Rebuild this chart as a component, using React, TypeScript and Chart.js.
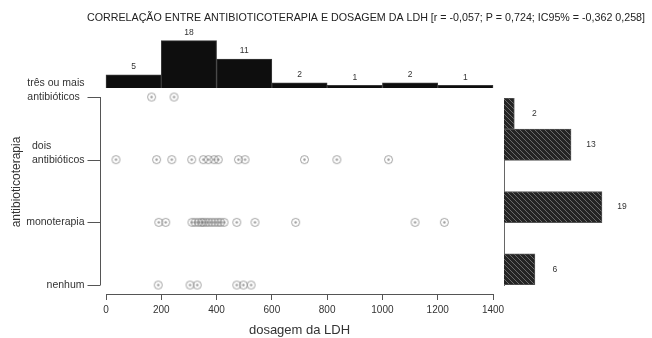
import React, { useEffect, useRef } from 'react';
import { Chart, registerables } from 'chart.js';

Chart.register(...registerables);

const FONT = "'Liberation Sans', Arial, sans-serif";
Chart.defaults.font.family = FONT;

const TITLE = 'CORRELAÇÃO ENTRE ANTIBIOTICOTERAPIA E DOSAGEM DA LDH [r = -0,057; P = 0,724; IC95% = -0,362 0,258]';
const X_TITLE = 'dosagem da LDH';
const Y_TITLE = 'antibioticoterapia';

// category index 0..3 (bottom to top)
const CATEGORY_LABELS: string[][] = [
  ['nenhum'],
  ['monoterapia'],
  ['dois', 'antibióticos'],
  ['três ou mais', 'antibióticos'],
];

const LDH_NENHUM = [189, 304, 330, 473, 497, 525];
const LDH_MONOTERAPIA = [191, 216, 311, 322, 334, 345, 352, 362, 372, 383, 394, 405, 415, 427, 473, 539, 686, 1118, 1224];
const LDH_DOIS = [36, 183, 238, 310, 352, 370, 391, 406, 479, 503, 718, 835, 1022];
const LDH_TRES = [165, 246];

const X_MIN = 0;
const X_MAX = 1400;
const X_STEP = 200;

// top histogram (LDH bins of 200)
const HIST_BIN_CENTERS = [100, 300, 500, 700, 900, 1100, 1300];
const HIST_COUNTS = [5, 18, 11, 2, 1, 2, 1];

// right histogram (antibiotic groups, top to bottom)
const GROUP_BINS = ['2,5–3', '2–2,5', '1,5–2', '1–1,5', '0,5–1', '0–0,5'];
const GROUP_COUNTS = [2, 13, 0, 19, 0, 6];

const W = 652;
const H = 338;

function makeHatch(): CanvasPattern | string {
  const s = 5;
  const p = document.createElement('canvas');
  p.width = s;
  p.height = s;
  const c = p.getContext('2d');
  if (!c) return '#2a2a2a';
  c.fillStyle = '#242424';
  c.fillRect(0, 0, s, s);
  c.strokeStyle = '#6a6a6a';
  c.lineWidth = 1;
  c.beginPath();
  c.moveTo(-1, -1);
  c.lineTo(s + 1, s + 1);
  c.moveTo(-1, s - 1);
  c.lineTo(1, s + 1);
  c.moveTo(s - 1, -1);
  c.lineTo(s + 1, 1);
  c.stroke();
  const ctx = document.createElement('canvas').getContext('2d');
  const pat = ctx ? ctx.createPattern(p, 'repeat') : null;
  return pat || '#2a2a2a';
}

function makeRing(): HTMLCanvasElement {
  const p = document.createElement('canvas');
  p.width = 11;
  p.height = 11;
  const c = p.getContext('2d');
  if (c) {
    c.strokeStyle = 'rgba(120,120,120,0.7)';
    c.lineWidth = 1;
    c.beginPath();
    c.arc(5.5, 5.5, 4, 0, Math.PI * 2);
    c.stroke();
    c.fillStyle = 'rgba(120,120,120,0.75)';
    c.beginPath();
    c.arc(5.5, 5.5, 1.2, 0, Math.PI * 2);
    c.fill();
  }
  return p;
}

const countLabels = (horizontal: boolean) => ({
  id: 'countLabels',
  afterDatasetsDraw(chart: any) {
    const ctx = chart.ctx;
    const meta = chart.getDatasetMeta(0);
    const data = chart.data.datasets[0].data;
    ctx.save();
    ctx.font = `8.5px ${FONT}`;
    ctx.fillStyle = '#333';
    ctx.textAlign = 'center';
    ctx.textBaseline = 'middle';
    meta.data.forEach((bar: any, i: number) => {
      const v = horizontal ? data[i] : data[i].y;
      if (!v) return;
      if (horizontal) ctx.fillText(String(v), bar.x + 20, bar.y);
      else ctx.fillText(String(v), bar.x, bar.y - 8);
    });
    ctx.restore();
  },
});

const rAxisY = {
  id: 'rAxisY',
  afterDraw(chart: any) {
    const { ctx, chartArea } = chart;
    const y = chart.scales.y;
    const ax = Math.round(chartArea.left - 6) + 0.5;
    const top = y.getPixelForValue(CATEGORY_LABELS.length - 1);
    const bottom = y.getPixelForValue(0);
    ctx.save();
    ctx.strokeStyle = '#555';
    ctx.lineWidth = 1;
    ctx.beginPath();
    ctx.moveTo(ax, top);
    ctx.lineTo(ax, bottom);
    CATEGORY_LABELS.forEach((_, i) => {
      const py = Math.round(y.getPixelForValue(i)) + 0.5;
      ctx.moveTo(ax - 13, py);
      ctx.lineTo(ax, py);
    });
    ctx.stroke();
    ctx.font = `10.5px ${FONT}`;
    ctx.fillStyle = '#333';
    ctx.textBaseline = 'middle';
    ctx.textAlign = 'left';
    const right = ax - 16;
    CATEGORY_LABELS.forEach((lines, i) => {
      const py = y.getPixelForValue(i);
      const bw = Math.max(...lines.map((l) => ctx.measureText(l).width));
      lines.forEach((l, j) => {
        ctx.fillText(l, right - bw, py - (lines.length - 1 - j) * 13.5);
      });
    });
    ctx.restore();
  },
};

export default function App() {
  const topRef = useRef<HTMLCanvasElement>(null);
  const mainRef = useRef<HTMLCanvasElement>(null);
  const sideRef = useRef<HTMLCanvasElement>(null);

  useEffect(() => {
    const charts: Chart[] = [];
    const hatch = makeHatch();
    const ring = makeRing();

    if (topRef.current) {
      charts.push(
        new Chart(topRef.current, {
          type: 'bar',
          data: {
            datasets: [
              {
                data: HIST_BIN_CENTERS.map((x, i) => ({ x, y: HIST_COUNTS[i] })),
                backgroundColor: '#0e0e0e',
                borderColor: '#3a3a3a',
                borderWidth: 1,
                barPercentage: 1,
                categoryPercentage: 1,
              } as any,
            ],
          },
          options: {
            responsive: false,
            animation: false,
            layout: { padding: { left: 80, right: 0, top: 0, bottom: 250 } },
            plugins: {
              legend: { display: false },
              tooltip: { enabled: false },
              title: {
                display: true,
                text: TITLE,
                color: '#222',
                font: { size: 10.7, weight: 'normal' },
                padding: { top: 12, bottom: 4 },
              },
            },
            scales: {
              x: {
                type: 'linear',
                display: false,
                offset: false,
                min: -94.06,
                max: 1975.2,
                ticks: { stepSize: X_STEP, includeBounds: false },
              },
              y: { display: false, min: 0, max: 22.5 },
            },
          } as any,
          plugins: [countLabels(false)],
        })
      );
    }

    if (mainRef.current) {
      const groups = [LDH_NENHUM, LDH_MONOTERAPIA, LDH_DOIS, LDH_TRES];
      charts.push(
        new Chart(mainRef.current, {
          type: 'scatter',
          data: {
            datasets: groups.map((vals, gi) => ({
              label: CATEGORY_LABELS[gi].join(' '),
              data: vals.map((v) => ({ x: v, y: gi })),
              pointStyle: ring,
              pointRadius: 4,
              clip: false,
            })) as any,
          },
          options: {
            responsive: false,
            animation: false,
            layout: { padding: { left: 0, right: 159, top: 70, bottom: 0 } },
            plugins: { legend: { display: false }, tooltip: { enabled: false } },
            scales: {
              x: {
                type: 'linear',
                min: X_MIN,
                max: X_MAX,
                ticks: {
                  stepSize: X_STEP,
                  color: '#333',
                  font: { size: 10 },
                  padding: 4,
                  maxRotation: 0,
                  callback: (v: any) => String(v),
                },
                grid: { drawOnChartArea: false, drawTicks: true, tickLength: 6, color: '#555' },
                border: { display: true, color: '#555' },
                title: {
                  display: true,
                  text: X_TITLE,
                  color: '#333',
                  font: { size: 13 },
                  padding: { top: 0, bottom: 0 },
                },
                afterFit: (s: any) => {
                  s.height = 44;
                },
              },
              y: {
                type: 'linear',
                min: -0.1436,
                max: 3.431,
                ticks: { display: false },
                grid: { display: false },
                border: { display: false },
                title: {
                  display: true,
                  text: Y_TITLE,
                  color: '#333',
                  font: { size: 12 },
                  padding: { top: 9, bottom: 0 },
                },
                afterFit: (s: any) => {
                  s.width = 106;
                },
              },
            },
          } as any,
          plugins: [rAxisY],
        })
      );
    }

    if (sideRef.current) {
      charts.push(
        new Chart(sideRef.current, {
          type: 'bar',
          data: {
            labels: GROUP_BINS,
            datasets: [
              {
                data: GROUP_COUNTS,
                backgroundColor: hatch as any,
                borderColor: '#555',
                borderWidth: 1,
                barPercentage: 1,
                categoryPercentage: 1,
              } as any,
            ],
          },
          options: {
            indexAxis: 'y',
            responsive: false,
            animation: false,
            layout: { padding: { left: 504, right: 0, top: 98, bottom: 53 } },
            plugins: { legend: { display: false }, tooltip: { enabled: false } },
            scales: {
              x: { display: false, min: 0, max: 28.7 },
              y: {
                ticks: { display: false },
                grid: { display: false, drawTicks: false },
                border: { display: true, color: '#666' },
                afterFit: (s: any) => {
                  s.width = 0;
                },
              },
            },
          } as any,
          plugins: [countLabels(true)],
        })
      );
    }

    return () => charts.forEach((c) => c.destroy());
  }, []);

  const cs: React.CSSProperties = { position: 'absolute', left: 0, top: 0, width: W, height: H };
  return (
    <div style={{ position: 'absolute', left: 0, top: 0, width: W, height: H, background: '#fff' }}>
      <canvas ref={topRef} width={W} height={H} style={cs} />
      <canvas ref={mainRef} width={W} height={H} style={cs} />
      <canvas ref={sideRef} width={W} height={H} style={cs} />
    </div>
  );
}
